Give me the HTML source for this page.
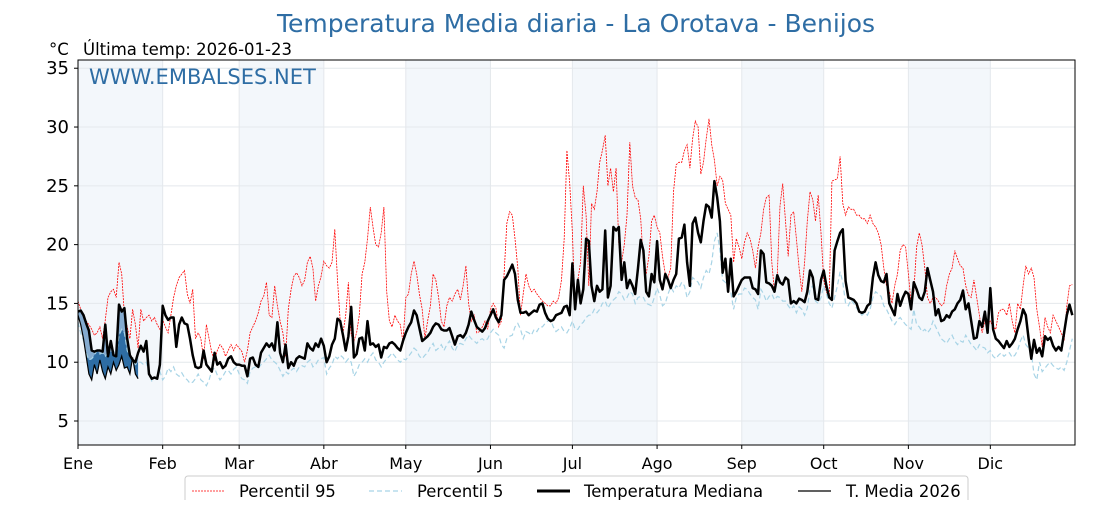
<!DOCTYPE html>
<html><head><meta charset="utf-8"><style>
body{margin:0;background:#fff;}
svg text{font-family:"DejaVu Sans","Liberation Sans",sans-serif;}
</style></head><body>
<svg id="chart" width="1120" height="500" viewBox="0 0 1120 500" xmlns="http://www.w3.org/2000/svg">
<text x="576" y="32" text-anchor="middle" font-size="25" fill="#2e6da4">Temperatura Media diaria - La Orotava - Benijos</text>
<text x="49" y="55" font-size="16.5" fill="#000">°C</text>
<text x="83" y="55" font-size="16.5" fill="#000">Última temp: 2026-01-23</text>
<g id="bands"></g><g id="grid"></g><g id="series"></g>
<text x="89" y="84" font-size="21" fill="#2e6da4">WWW.EMBALSES.NET</text>
<rect x="78" y="60" width="997" height="385" fill="none" stroke="#000" stroke-width="1"/>
<g id="axes"></g>
<g>
<rect x="185" y="476" width="783" height="30" rx="3" fill="#fff" stroke="#ccc"/>
<line x1="192" y1="491" x2="225" y2="491" stroke="red" stroke-width="0.8" stroke-dasharray="2,1"/>
<text x="239" y="497" font-size="16.4">Percentil 95</text>
<line x1="369" y1="491" x2="402" y2="491" stroke="#a8d4e6" stroke-width="1.2" stroke-dasharray="5,3"/>
<text x="417" y="497" font-size="16.4">Percentil 5</text>
<line x1="537" y1="491" x2="570" y2="491" stroke="#000" stroke-width="3"/>
<text x="584" y="497" font-size="16.4">Temperatura Mediana</text>
<line x1="798" y1="491" x2="831" y2="491" stroke="#000" stroke-width="1.2"/>
<text x="846" y="497" font-size="16.4">T. Media 2026</text>
</g>
</svg>
<script>
const months=["Ene","Feb","Mar","Abr","May","Jun","Jul","Ago","Sep","Oct","Nov","Dic"];
const monthStarts=[0,31,59,90,120,151,181,212,243,273,304,334];
const yTicks=[5,10,15,20,25,30,35];
const median=[14.3,14.4,14.0,13.3,12.7,11.0,10.9,11.0,11.0,10.9,13.2,10.5,11.8,10.6,10.5,14.9,14.3,14.6,12.0,10.6,10.2,10.0,10.8,11.4,10.9,11.8,9.0,8.6,8.7,8.6,9.8,
14.8,14.0,13.6,13.8,13.8,11.3,13.2,13.8,13.3,13.2,12.0,10.6,9.6,9.5,9.6,11.0,9.8,9.5,9.2,10.8,9.8,10.0,9.5,9.7,10.3,10.5,10.0,9.8,
9.8,9.7,9.7,8.8,10.3,10.4,9.8,9.6,10.8,11.2,11.6,11.3,11.6,11.0,13.4,10.8,10.0,11.5,9.5,10.0,9.7,10.3,10.5,10.4,10.3,11.6,11.2,11.0,11.6,11.3,12.0,
11.4,10.0,10.5,11.5,12.0,13.7,13.5,12.3,11.0,12.2,14.7,10.4,10.7,12.0,12.1,11.0,13.5,11.5,11.6,11.3,11.5,10.4,11.3,11.2,11.6,11.7,11.5,11.2,11.0,11.8,
12.5,13.0,13.4,14.4,14.0,12.9,11.8,12.0,12.2,12.5,13.0,13.3,13.2,12.8,12.7,12.7,12.9,12.2,11.5,12.2,12.3,12.1,12.5,13.2,14.3,13.6,13.0,12.8,12.6,12.9,13.5,
14.0,14.5,13.8,13.4,14.0,17.0,17.3,17.8,18.3,17.5,15.3,14.2,14.2,14.3,14.0,14.2,14.4,14.3,14.9,15.0,14.2,13.7,13.5,13.6,14.0,14.1,14.2,14.7,14.8,14.0,
18.4,14.5,17.0,15.0,16.2,20.5,20.3,16.5,15.2,16.5,16.0,16.2,21.2,15.5,16.5,21.5,21.2,21.5,17.0,18.5,16.3,17.0,16.5,15.8,18.0,20.4,19.5,16.0,15.6,17.5,16.8,
20.3,17.0,16.2,17.5,17.0,16.3,17.0,17.5,20.5,20.6,21.7,18.5,16.5,21.8,22.3,21.0,20.2,22.0,23.4,23.2,22.3,25.4,24.0,22.0,17.6,18.8,16.0,18.8,15.6,16.0,16.5,
17.0,17.2,17.2,17.2,16.3,16.2,15.8,19.5,19.2,16.8,16.7,16.5,16.0,17.4,16.8,16.6,17.2,17.0,15.0,15.2,15.0,15.4,15.3,15.1,16.0,17.8,17.2,15.4,15.3,17.0,
17.8,16.5,15.5,15.3,19.5,20.3,21.0,21.3,16.9,15.5,15.4,15.3,15.0,14.3,14.2,14.3,14.8,15.0,17.2,18.5,17.4,16.9,16.8,17.5,15.0,14.5,14.0,15.8,14.8,15.5,16.0,
15.8,14.5,16.8,16.2,15.5,15.3,16.0,18.0,17.0,16.0,14.0,14.5,13.5,13.6,14.0,13.8,14.3,14.5,15.0,15.3,16.1,14.5,15.0,13.5,12.0,12.1,13.5,13.0,14.3,12.5,
16.3,12.8,12.0,11.8,11.5,11.2,11.8,11.3,11.6,12.0,12.8,13.5,14.5,14.0,12.0,10.3,11.9,10.8,11.2,10.5,12.2,11.9,12.1,11.4,11.0,11.3,11.0,12.5,14.0,14.9,14.0];
const p95=[15.2,14.5,14.0,13.5,13.2,12.8,12.3,12.5,13.0,12.0,13.6,15.5,16.0,16.2,15.5,18.5,17.5,14.0,13.0,12.0,14.5,13.2,11.2,14.5,13.5,13.8,14.0,13.5,13.8,13.2,12.8,
13.6,13.0,12.5,14.0,15.5,16.5,17.2,17.5,17.8,15.8,15.0,16.2,12.0,12.5,12.0,10.3,13.2,12.0,10.8,10.2,11.0,11.5,11.2,10.5,11.0,11.5,11.0,11.5,
11.2,10.9,10.0,11.0,12.5,13.0,13.5,14.2,15.2,15.6,16.8,14.0,13.8,16.5,14.8,13.5,12.5,10.5,14.5,16.2,17.3,17.6,17.2,16.5,17.0,18.5,19.0,18.0,15.2,16.5,17.3,
18.6,18.2,18.0,18.5,21.3,17.0,13.5,12.5,14.0,16.8,12.3,11.8,12.5,14.0,17.5,18.5,20.5,23.2,21.5,20.0,19.8,21.0,23.2,16.0,13.5,13.0,14.0,13.5,13.2,11.7,
15.5,15.8,17.5,18.6,17.5,15.8,14.5,12.0,13.5,14.8,17.5,17.0,15.5,13.5,13.0,14.8,15.5,15.2,15.8,16.2,15.3,16.5,18.2,15.0,13.5,14.0,12.5,12.6,13.0,13.5,12.8,
14.5,15.0,14.6,13.0,13.5,17.5,21.8,22.8,22.5,20.5,18.0,14.0,15.8,17.5,16.5,16.0,16.2,15.8,15.5,15.2,15.0,14.8,14.8,15.2,15.0,15.5,17.0,20.5,28.0,25.2,
21.0,14.5,17.0,18.5,25.0,22.5,16.5,23.5,23.0,24.5,27.0,28.0,29.3,25.0,26.5,24.5,26.5,20.0,18.5,20.0,22.5,28.7,25.0,24.0,23.8,22.2,18.5,17.5,19.0,22.0,22.5,
21.5,21.0,19.0,17.5,17.2,18.0,24.5,26.8,27.0,27.0,28.0,28.5,26.5,29.0,30.5,30.0,26.0,27.0,29.0,30.7,28.5,27.2,25.0,25.8,25.5,23.5,23.0,22.5,18.5,20.5,19.8,
18.8,20.2,21.0,20.5,19.5,18.0,19.8,21.0,23.0,24.0,24.2,18.5,16.0,17.5,23.3,25.2,22.0,19.0,22.5,22.8,20.5,18.0,16.0,18.5,22.0,24.5,23.8,22.0,24.2,21.0,
17.0,16.0,15.5,25.4,25.5,25.6,27.5,23.5,22.5,23.2,23.0,23.0,22.5,22.5,22.2,22.2,21.8,22.5,21.8,21.5,21.0,20.0,18.0,16.5,16.0,15.0,16.5,17.5,19.5,20.0,19.8,
17.5,15.0,16.0,19.8,21.0,20.0,18.0,15.5,15.0,15.5,15.5,15.2,14.8,15.0,16.5,17.5,18.0,19.5,18.8,18.2,18.0,16.5,15.7,15.5,17.0,15.5,14.0,12.5,13.5,13.0,
13.5,13.0,12.8,14.2,14.5,14.5,14.0,15.0,13.5,12.5,15.0,14.5,16.5,18.2,17.5,18.0,17.2,14.5,13.0,11.3,13.8,13.0,12.5,14.0,13.5,13.0,12.5,11.8,14.8,16.5,16.6];
const p5=[13.4,12.5,11.8,10.8,10.2,10.3,10.6,11.0,10.7,10.8,10.5,10.8,10.9,11.0,10.5,12.3,12.8,12.5,11.0,10.5,10.2,9.8,10.0,10.0,9.8,10.0,9.0,8.4,8.6,8.8,9.2,
8.5,8.8,9.5,9.2,9.6,9.0,8.8,9.1,8.7,8.5,8.2,8.3,8.6,9.0,8.5,8.3,8.0,8.5,9.3,9.5,8.9,8.5,8.8,9.2,9.3,9.0,9.4,9.6,
9.0,8.6,8.5,8.2,9.2,9.5,9.6,9.5,9.8,10.0,10.3,10.6,10.2,10.0,9.8,9.3,8.8,9.2,9.0,9.3,9.5,9.2,9.6,9.7,9.6,10.0,10.2,9.6,9.8,10.2,10.3,
10.4,9.0,9.5,9.8,10.5,10.3,10.6,10.4,10.0,10.3,10.0,8.8,9.2,9.8,10.0,10.3,10.0,10.5,10.8,10.2,10.0,9.6,10.0,10.3,10.5,10.8,10.5,10.2,10.0,10.3,
10.2,10.5,10.8,11.2,11.0,10.5,10.3,10.6,10.8,11.3,11.6,11.0,11.2,11.5,11.0,11.5,11.8,11.2,10.9,11.5,11.6,11.5,12.0,12.3,12.0,11.8,11.6,11.9,12.0,11.8,12.0,
12.5,12.8,12.5,12.3,11.5,11.2,12.0,12.2,12.3,13.0,13.3,12.8,12.0,12.6,12.5,12.3,12.8,12.6,13.0,13.0,13.3,13.5,13.6,13.0,12.6,12.8,13.0,12.6,12.5,12.9,
13.5,12.8,12.8,13.2,13.4,13.8,14.0,14.0,14.5,14.2,14.5,15.0,15.2,14.6,15.0,15.3,15.5,16.0,15.8,15.3,15.5,16.0,15.8,15.0,15.5,15.6,15.5,15.0,14.9,14.8,15.5,
16.3,15.7,14.8,15.0,15.8,16.4,16.0,16.5,16.3,16.8,16.5,15.5,16.0,17.2,17.0,16.8,16.3,17.2,17.8,17.5,18.5,20.3,21.0,19.5,17.0,16.8,16.2,16.0,14.5,15.5,15.8,
15.8,16.3,16.2,15.8,15.5,15.3,14.5,16.2,15.8,15.2,15.6,15.8,15.3,15.6,15.5,15.2,15.2,14.8,14.5,14.8,14.2,14.7,14.5,14.0,14.6,16.2,16.5,15.2,15.0,15.5,
16.5,15.8,15.0,14.6,15.5,16.5,17.7,16.8,15.0,14.8,15.3,15.0,14.6,14.3,14.0,14.2,14.0,14.5,15.5,16.0,15.8,15.6,14.8,14.5,14.0,13.5,13.2,13.6,13.8,13.5,13.2,
13.0,12.8,14.5,13.2,13.0,12.6,12.8,12.5,12.8,13.5,13.0,12.5,12.0,11.8,11.6,12.0,12.3,11.8,11.5,11.8,11.7,12.3,11.9,11.5,11.3,11.0,11.5,11.3,11.2,10.8,
11.0,10.5,10.3,10.6,10.8,10.5,10.7,10.8,10.4,10.6,11.0,11.8,12.3,11.5,11.2,10.8,9.0,8.5,10.0,9.2,9.5,9.8,10.0,9.7,9.5,9.4,9.6,9.3,10.0,11.0,12.0];
const t2026=[14.0,13.2,12.0,10.5,9.0,8.5,9.8,9.0,10.2,9.2,8.6,9.6,9.0,10.0,9.3,9.8,10.5,9.5,9.6,9.0,10.4,9.0,8.6];

const NS="http://www.w3.org/2000/svg";
const X0=78,X1=1075,Y0=60,Y1=445,YMIN=2.96,YMAX=35.7;
function xs(d){return X0+d*(X1-X0)/365;}
function ys(v){return Y1-(v-YMIN)*(Y1-Y0)/(YMAX-YMIN);}
function mk(tag,attrs,parent){const e=document.createElementNS(NS,tag);for(const k in attrs)e.setAttribute(k,attrs[k]);parent.appendChild(e);return e;}
const bands=document.getElementById('bands'),grid=document.getElementById('grid'),series=document.getElementById('series'),axes=document.getElementById('axes');
monthStarts.forEach((s,i)=>{
  const e=(i<11?monthStarts[i+1]:365);
  if(i%2===0){const r=mk('rect',{x:xs(s),y:Y0,width:xs(e)-xs(s),height:Y1-Y0,fill:'#f3f7fb'},bands);
    
    }
  const g=mk('line',{x1:xs(s),x2:xs(s),y1:Y0,y2:Y1,stroke:'#e4e8ec','stroke-width':1},grid);
  
  
  const t=mk('line',{x1:xs(s),x2:xs(s),y1:Y1,y2:Y1+4,stroke:'#000'},axes);
  
  
  const l=mk('text',{x:xs(s),y:469,'text-anchor':'middle','font-size':16},axes);
  l.textContent=months[i];
  
  
});
yTicks.forEach(v=>{
  const g=mk('line',{x1:X0,x2:X1,y1:ys(v),y2:ys(v),stroke:'#e4e8ec'},grid);
  
  
  const t=mk('line',{x1:X0-4,x2:X0,y1:ys(v),y2:ys(v),stroke:'#000'},axes);
  
  
  const l=mk('text',{x:X0-9,y:ys(v)+6,'text-anchor':'end','font-size':18},axes);
  l.textContent=v;
  
  
});
function pts(arr){return arr.map((v,i)=>xs(i).toFixed(1)+','+ys(v).toFixed(1)).join(' ');}
let darkPts=[],lightPts=[];
t2026.forEach((v,i)=>{darkPts.push(xs(i)+','+ys(median[i]));});
for(let i=t2026.length-1;i>=0;i--)darkPts.push(xs(i)+','+ys(t2026[i]));
const fd=mk('polygon',{points:darkPts.join(' '),fill:'#2e6da4'},series);


t2026.forEach((v,i)=>{lightPts.push(xs(i)+','+ys(median[i]));});
for(let i=t2026.length-1;i>=0;i--)lightPts.push(xs(i)+','+ys(Math.max(p5[i],t2026[i])));
const fl=mk('polygon',{points:lightPts.join(' '),fill:'#a9c6e2','fill-opacity':0.7},series);


const lp95=mk('polyline',{points:pts(p95),fill:'none',stroke:'red','stroke-width':0.8,'stroke-dasharray':'2,1'},series);


const lp5=mk('polyline',{points:pts(p5),fill:'none',stroke:'#a8d4e6','stroke-width':1.2,'stroke-dasharray':'5,3'},series);


const lm=mk('polyline',{points:pts(median),fill:'none',stroke:'#000','stroke-width':2.5,'stroke-linejoin':'round'},series);


const l26=mk('polyline',{points:pts(t2026),fill:'none',stroke:'#000','stroke-width':1.2},series);


</script>
</body></html>
